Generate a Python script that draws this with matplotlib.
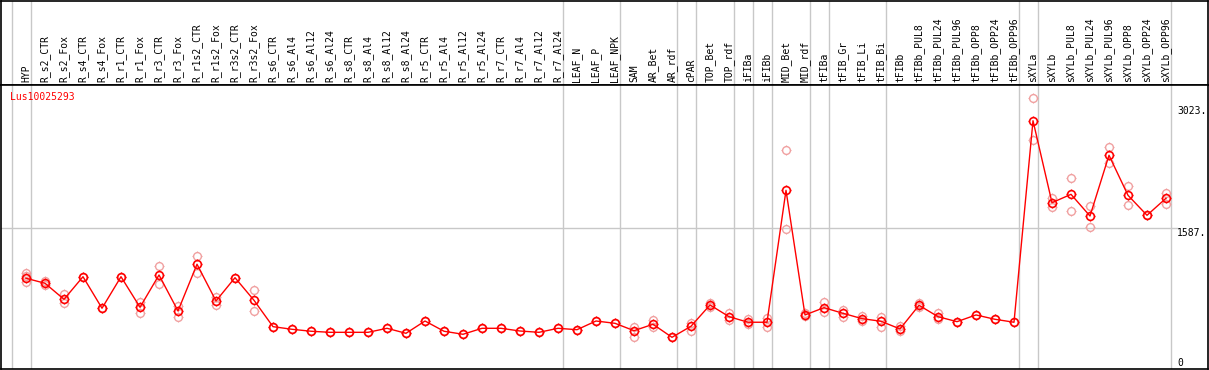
import matplotlib
matplotlib.use("Agg")
import matplotlib.pyplot as plt
from matplotlib.path import Path

# sample labels across the top
samples = [
    "HYP", "R_s2_CTR", "R_s2_Fox", "R_s4_CTR", "R_s4_Fox", "R_r1_CTR", "R_r1_Fox",
    "R_r3_CTR", "R_r3_Fox", "R_r1s2_CTR", "R_r1s2_Fox", "R_r3s2_CTR", "R_r3s2_Fox",
    "R_s6_CTR", "R_s6_Al4", "R_s6_Al12", "R_s6_Al24", "R_s8_CTR", "R_s8_Al4",
    "R_s8_Al12", "R_s8_Al24", "R_r5_CTR", "R_r5_Al4", "R_r5_Al12", "R_r5_Al24",
    "R_r7_CTR", "R_r7_Al4", "R_r7_Al12", "R_r7_Al24", "LEAF_N", "LEAF_P", "LEAF_NPK",
    "SAM", "AR_Bet", "AR_rdf", "cPAR", "TOP_Bet", "TOP_rdf", "iFIBa", "iFIBb",
    "MID_Bet", "MID_rdf", "tFIBa", "tFIB_Gr", "tFIB_Li", "tFIB_Bi", "tFIBb",
    "tFIBb_PUL8", "tFIBb_PUL24", "tFIBb_PUL96", "tFIBb_OPP8", "tFIBb_OPP24",
    "tFIBb_OPP96", "sXYLa", "sXYLb", "sXYLb_PUL8", "sXYLb_PUL24", "sXYLb_PUL96",
    "sXYLb_OPP8", "sXYLb_OPP24", "sXYLb_OPP96",
]

# mean expression per sample
means = [
    977, 916, 720, 996, 611, 996, 623, 1017, 578, 1148, 700, 984, 708,
    386, 354, 330, 317, 317, 317, 366, 305, 455, 330, 293, 366, 366, 333, 317, 366,
    349, 455, 427, 337, 415, 256, 391, 651, 508, 440, 440,
    2051, 529, 618, 549, 484, 452, 358, 647, 508, 447, 529, 476, 440,
    2901, 1900, 2002, 1737, 2479, 1990, 1746, 1954,
]

# individual replicates per sample
replicates = [
    [1045, 1005, 928], [947, 895], [781, 679], [996], [611], [996], [691, 557],
    [1127, 904], [639, 501], [1249, 1045], [752, 647], [984], [838, 574],
    [386], [354], [330], [317], [317], [317], [366], [305], [455], [330], [293], [366],
    [366], [333], [317], [366], [349], [455], [427],
    [386, 264], [468, 386], [256], [435, 333], [672, 623], [549, 468], [476, 415], [496, 379],
    [2543, 1575], [549, 516], [684, 569], [590, 508], [516, 452], [508, 386], [398, 337],
    [672, 630], [549, 476], [447], [529], [476], [440],
    [3175, 2662], [1954, 1844], [2198, 1799], [1859, 1600], [2576, 2388], [2107, 1868],
    [1746], [2022, 1884],
]

# index of last sample in each group (gray separators)
group_ends = [-1, 0, 28, 31, 34, 35, 37, 38, 39, 41, 42, 45, 52, 53, 60]

gene = "Lus10025293"
y_ticks = [3023, 1587, 0]
y_tick_labels = ["3023.", "1587.", "0"]

RED = "#ff0000"
PINK = "#f0a0a0"
GRID = "#c8c8c8"
FONT = "DejaVu Sans Mono"

# four little outward ticks drawn around each circle
tick_marker = Path(
    [(0, 1), (0, 1.4), (0, -1), (0, -1.4), (1, 0), (1.4, 0), (-1, 0), (-1.4, 0)],
    [Path.MOVETO, Path.LINETO] * 4,
)
CIRCLE = 5.6


def draw_points(ax, x, y, color, lw, z):
    ax.plot(x, y, linestyle="none", marker="o", markersize=CIRCLE,
            markerfacecolor="none", markeredgecolor=color, markeredgewidth=lw, zorder=z)
    ax.plot(x, y, linestyle="none", marker=tick_marker, markersize=CIRCLE * 1.4,
            markeredgecolor=color, markeredgewidth=lw * 0.8, zorder=z)


W, H = 1209, 370
fig = plt.figure(figsize=(W / 100, H / 100), dpi=100)

x_lo = (1 - 26) / 19
x_hi = (1208 - 26) / 19

head = fig.add_axes([1 / W, (H - 85) / H, 1207 / W, 84 / H])
ax = fig.add_axes([1 / W, 1 / H, 1207 / W, 284 / H])

for a in (head, ax):
    a.set_xlim(x_lo, x_hi)
    a.set_xticks([])
    a.set_yticks([])
    for s in a.spines.values():
        s.set_linewidth(1.2)
        s.set_color("black")
    for g in group_ends:
        a.axvline(g + 0.25, color=GRID, lw=1.0, zorder=0)

head.set_ylim(0, 1)
for i, name in enumerate(samples):
    head.text(i, 0.03, name, rotation=90, ha="center", va="bottom",
              fontsize=7, family=FONT, color="black")

ax.set_ylim(-131, 3337)
ax.axhline(1587, xmin=0, xmax=0.974, color=GRID, lw=1.0, zorder=0)

xs = list(range(len(samples)))
for i, reps in enumerate(replicates):
    draw_points(ax, [i] * len(reps), reps, PINK, 1.0, 2)
ax.plot(xs, means, color=RED, lw=1.0, zorder=3)
draw_points(ax, xs, means, RED, 1.2, 4)

ax.text(0.0075, 0.958, gene, transform=ax.transAxes, ha="left", va="center",
        fontsize=7, family=FONT, color=RED)

for v, lab in zip(y_ticks, y_tick_labels):
    ax.text(0.9745, v, lab, transform=ax.get_yaxis_transform(), ha="left",
            va="center" if v == max(y_ticks) else "top",
            fontsize=7, family=FONT, color="black")

fig.savefig("out.png", dpi=100)
